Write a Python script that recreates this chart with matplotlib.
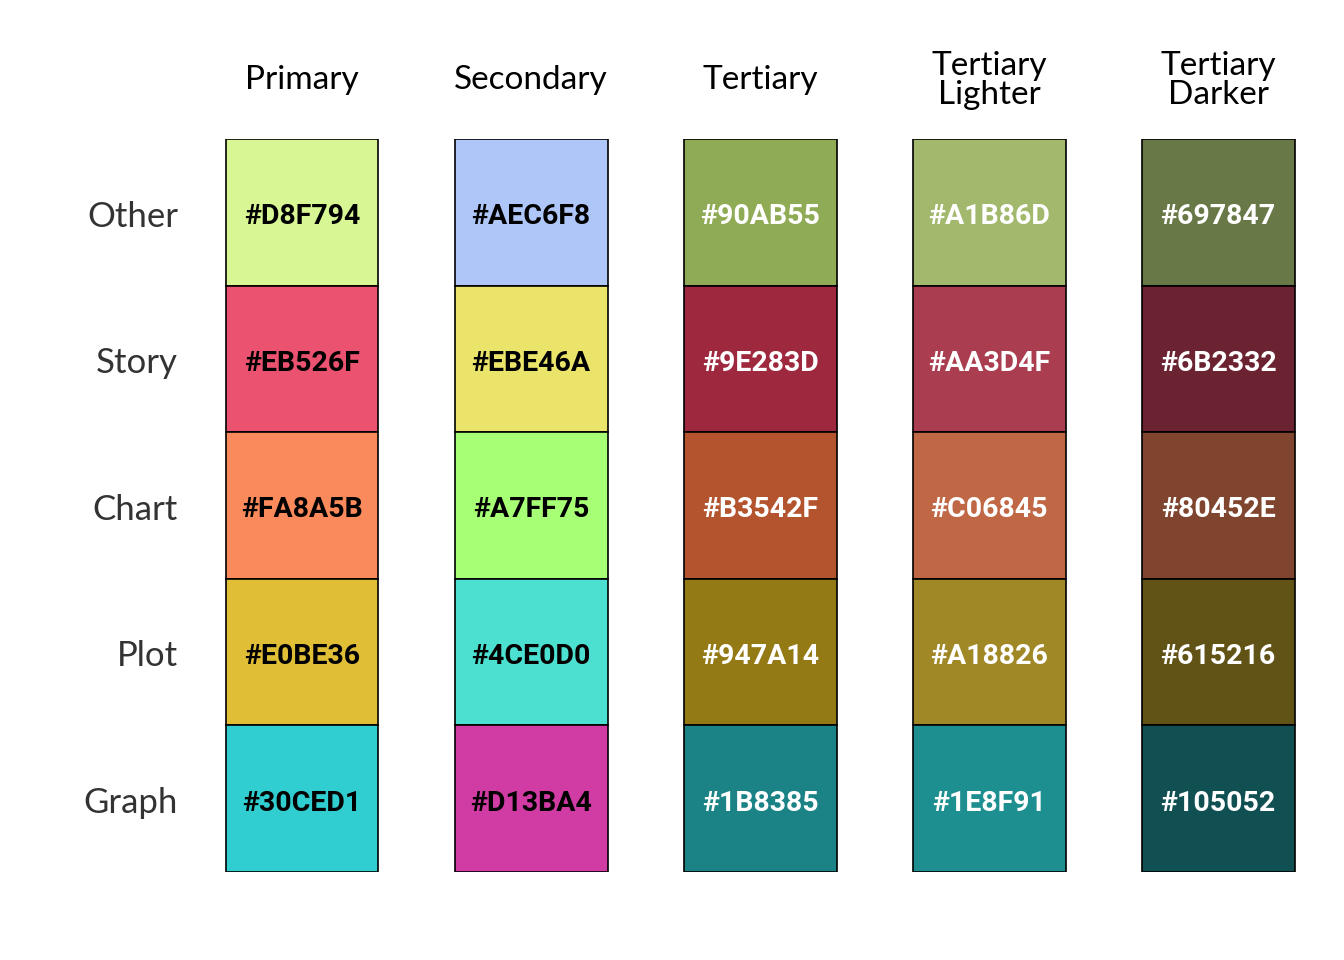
import matplotlib
matplotlib.use("Agg")
import matplotlib.pyplot as plt

columns = ["Primary", "Secondary", "Tertiary", "Tertiary\nLighter", "Tertiary\nDarker"]
rows = ["Other", "Story", "Chart", "Plot", "Graph"]
colors = [
    ["#D8F794", "#AEC6F8", "#90AB55", "#A1B86D", "#697847"],
    ["#EB526F", "#EBE46A", "#9E283D", "#AA3D4F", "#6B2332"],
    ["#FA8A5B", "#A7FF75", "#B3542F", "#C06845", "#80452E"],
    ["#E0BE36", "#4CE0D0", "#947A14", "#A18826", "#615216"],
    ["#30CED1", "#D13BA4", "#1B8385", "#1E8F91", "#105052"],
]
text_colors = ["black", "black", "white", "white", "white"]

fig = plt.figure(figsize=(13.44, 9.6), dpi=100)
ax = fig.add_axes([0.1395, 0.0917, 0.852, 0.7635])
ax.set_xlim(-0.5, 4.5)
ax.set_ylim(4.5, -0.5)
ax.axis("off")

for r, rname in enumerate(rows):
    for c, cname in enumerate(columns):
        col = colors[r][c]
        ax.bar(c, 1, bottom=r - 0.5, width=0.668, color=col, edgecolor="black", linewidth=1.2)
        ax.text(c, r + 0.03, col, ha="center", va="center", fontsize=20.5, fontweight="bold",
                family="Roboto", color=text_colors[c])
    ax.text(-0.541, r + 0.03, rname, ha="right", va="center", fontsize=25, family="Lato",
            color="#333333", clip_on=False)

for c, cname in enumerate(columns):
    ax.text(c, -0.9, cname, ha="center", va="center", fontsize=24, family="Lato",
            color="black", linespacing=0.95, clip_on=False)

fig.savefig("out.png", dpi=100)
